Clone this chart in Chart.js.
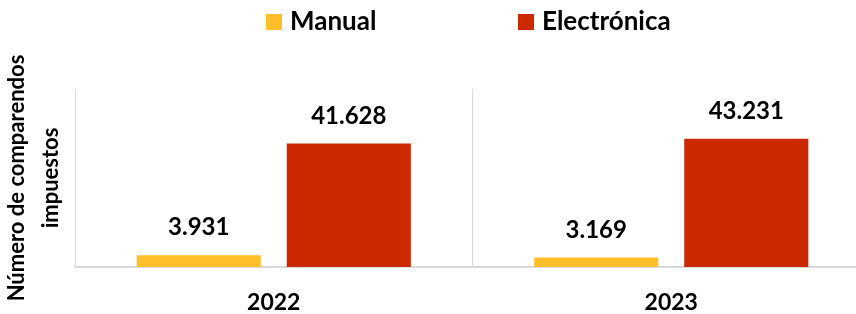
<!DOCTYPE html>
<html>
<head>
<meta charset="utf-8">
<script src="https://cdn.jsdelivr.net/npm/chart.js@4"></script>
<style>
  html, body { margin: 0; padding: 0; background: #fff; overflow: hidden; }
  #wrap { position: relative; width: 870px; height: 314px; }
  #legend { position: absolute; top: 0; left: 0; font-family: Lato, sans-serif; font-weight: bold; font-size: 26px; color: #000; }
  .item { position: absolute; top: 5px; white-space: nowrap; line-height: 30px; }
  .swatch { display: inline-block; width: 16px; height: 16px; margin-right: 8px; vertical-align: 0px; }
</style>
</head>
<body>
<div id="wrap">
  <canvas id="chart" width="870" height="314"></canvas>
  <div id="legend"></div>
</div>
<script>
const years = ['2022', '2023'];
const manual = [3931, 3169];
const electronica = [41628, 43231];
const seriesNames = ['Manual', 'Electrónica'];
const seriesColors = ['#FFBF2A', '#CC2900'];

function fmt(v) {
    return String(v).replace(/\B(?=(\d{3})+(?!\d))/g, '.');
}

// legend drawn as html so it can sit where the original has it
const legendEl = document.getElementById('legend');
const legendLeft = [266, 518];
seriesNames.forEach((name, i) => {
    const item = document.createElement('div');
    item.className = 'item';
    item.style.left = legendLeft[i] + 'px';
    item.innerHTML = `<span class="swatch" style="background:${seriesColors[i]}"></span>${name}`;
    legendEl.appendChild(item);
});

const valueLabels = {
    id: 'valueLabels',
    afterDatasetsDraw(chart) {
        const ctx = chart.ctx;
        ctx.save();
        ctx.font = 'bold 24px Lato, sans-serif';
        ctx.fillStyle = '#000';
        ctx.textAlign = 'center';
        ctx.textBaseline = 'alphabetic';
        chart.data.datasets.forEach((ds, i) => {
            chart.getDatasetMeta(i).data.forEach((bar, j) => {
                ctx.fillText(fmt(ds.data[j]), bar.x, bar.y - 20);
            });
        });
        ctx.restore();
    }
};

new Chart(document.getElementById('chart'), {
    type: 'bar',
    plugins: [valueLabels],
    data: {
        labels: years,
        datasets: [
            { label: seriesNames[0], data: manual, backgroundColor: seriesColors[0] },
            { label: seriesNames[1], data: electronica, backgroundColor: seriesColors[1] }
        ]
    },
    options: {
        responsive: false,
        animation: false,
        layout: { padding: { top: 89, right: 0, bottom: 0, left: 0 } },
        datasets: {
            bar: { categoryPercentage: 0.755, barPercentage: 0.827 }
        },
        plugins: {
            legend: { display: false },
            tooltip: { enabled: false }
        },
        scales: {
            x: {
                grid: { offset: true, color: '#d9d9d9', lineWidth: 1, drawTicks: false },
                border: { color: '#d9d9d9', width: 2 },
                ticks: {
                    color: '#000',
                    padding: 22,
                    font: { family: 'Lato, sans-serif', weight: 'bold', size: 23 }
                },
                afterFit: s => { s.height = 47; }
            },
            y: {
                min: 0,
                max: 60000,
                grid: { display: false },
                border: { color: '#d9d9d9', width: 1 },
                ticks: { display: false },
                title: {
                    display: true,
                    text: ['Número de comparendos', 'impuestos'],
                    color: '#000',
                    padding: { top: 0, bottom: 6 },
                    font: { family: 'Lato, sans-serif', weight: 'bold', size: 22, lineHeight: 1.55 }
                },
                afterFit: s => { s.width = 75; }
            }
        }
    }
});
</script>
</body>
</html>
